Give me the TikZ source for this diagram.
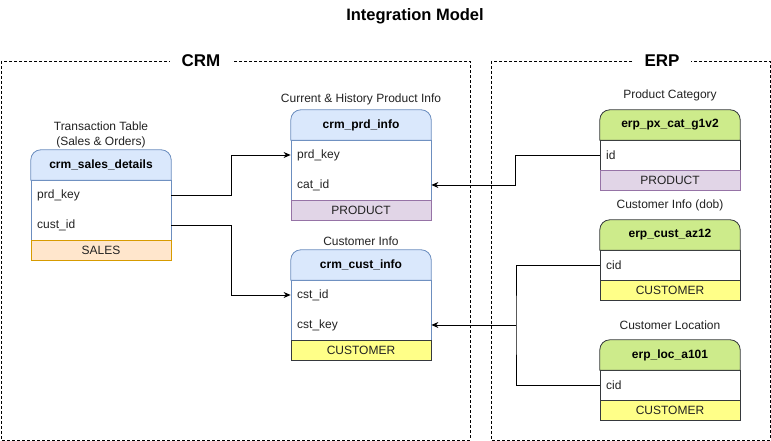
\documentclass[tikz,border=0pt]{standalone}
\usepackage{fontspec}
\setmainfont{Liberation Sans}
\usetikzlibrary{arrows.meta}
\definecolor{hdrblue}{HTML}{DAE8FC}
\definecolor{strblue}{HTML}{6C8EBF}
\definecolor{hdrgreen}{HTML}{CDEB8B}
\definecolor{strdark}{HTML}{36393D}
\definecolor{fpurple}{HTML}{E1D5E7}
\definecolor{spurple}{HTML}{9673A6}
\definecolor{forange}{HTML}{FFE6CC}
\definecolor{sorange}{HTML}{D79B00}
\definecolor{fyellow}{HTML}{FFFF88}
\definecolor{txt}{HTML}{222222}
\tikzset{
  container/.style={draw=black, dash pattern=on 3pt off 2pt, line width=0.8pt},
  contlabel/.style={fill=white, inner xsep=12pt, inner ysep=2pt, font=\fontsize{17}{19}\selectfont\bfseries},
  hdrtext/.style={inner sep=0pt, minimum width=140pt, minimum height=30pt, font=\fontsize{12}{14}\selectfont\bfseries},
  bodybox/.style={draw, fill=white, inner sep=0pt, minimum width=140pt, line width=0.8pt},
  foot/.style={draw, inner sep=0pt, minimum width=140pt, minimum height=20pt, line width=0.8pt, font=\fontsize{12}{14}\selectfont, text=txt},
  field/.style={anchor=west, inner sep=0pt, font=\fontsize{12}{14}\selectfont, text=txt},
  caption/.style={inner sep=0pt, align=center, font=\fontsize{12}{15}\selectfont, text=txt},
  conn/.style={draw=black, line width=0.8pt},
  arr/.style={conn, -{Stealth[length=7pt,width=6pt]}},
}
\newcommand{\hdrshape}[3]{%
  \draw[draw=#2, fill=#3, line width=0.8pt] (#1.south west) -- ([yshift=-10pt]#1.north west)
    arc[start angle=180, end angle=90, radius=10pt] -- ([xshift=-10pt]#1.north east)
    arc[start angle=90, end angle=0, radius=10pt] -- (#1.south east) -- cycle;}
\begin{document}
\begin{tikzpicture}[x=1pt, y=1pt]
\useasboundingbox (0,0) rectangle (771,441);
% title
\node[font=\fontsize{16.5}{18}\selectfont\bfseries] (title) at (415,425) {Integration Model};
% containers
\draw[container] (1,380) rectangle (470,1);
\node[contlabel] (crmlab) at (201,380) {CRM};
\draw[container] (491,380) rectangle (770,1);
\node[contlabel] (erplab) at (662,380) {ERP};

% ---- crm_sales_details
\node[caption] (sdcap) at (101,306.5) {Transaction Table\\(Sales \& Orders)};
\node[bodybox, draw=strblue, minimum height=60pt] (sdbody) at (101,231) {};
\node[foot, draw=sorange, fill=forange] (sdfoot) at (101,191) {SALES};
\node[hdrtext] (sdhdr) at (101,276) {};
\hdrshape{sdhdr}{strblue}{hdrblue}
\node[hdrtext] at (sdhdr) {crm\_sales\_details};
\node[field] (sdprd) at (37,246) {prd\_key};
\node[field] (sdcust) at (37,216) {cust\_id};

% ---- crm_prd_info
\node[caption] (prcap) at (361,342) {Current \& History Product Info};
\node[bodybox, draw=strblue, minimum height=60pt] (prbody) at (361,271) {};
\node[foot, draw=spurple, fill=fpurple] (prfoot) at (361,231) {PRODUCT};
\node[hdrtext] (prhdr) at (361,316) {};
\hdrshape{prhdr}{strblue}{hdrblue}
\node[hdrtext] at (prhdr) {crm\_prd\_info};
\node[field] (prkey) at (297,286) {prd\_key};
\node[field] (prcat) at (297,256) {cat\_id};

% ---- crm_cust_info
\node[caption] (cicap) at (361,200) {Customer Info};
\node[bodybox, draw=strblue, minimum height=60pt] (cibody) at (361,131) {};
\node[foot, draw=strdark, fill=fyellow] (cifoot) at (361,91) {CUSTOMER};
\node[hdrtext] (cihdr) at (361,176) {};
\hdrshape{cihdr}{strblue}{hdrblue}
\node[hdrtext] at (cihdr) {crm\_cust\_info};
\node[field] (ciid) at (297,146) {cst\_id};
\node[field] (cikey) at (297,116) {cst\_key};

% ---- erp_px_cat_g1v2
\node[caption] (pxcap) at (670,346) {Product Category};
\node[bodybox, draw=strdark, minimum height=30pt] (pxbody) at (670,286) {};
\node[foot, draw=spurple, fill=fpurple] (pxfoot) at (670,261) {PRODUCT};
\node[hdrtext] (pxhdr) at (670,316) {};
\hdrshape{pxhdr}{strdark}{hdrgreen}
\node[hdrtext] at (pxhdr) {erp\_px\_cat\_g1v2};
\node[field] (pxid) at (606,286) {id};

% ---- erp_cust_az12
\node[caption] (azcap) at (670,236) {Customer Info (dob)};
\node[bodybox, draw=strdark, minimum height=30pt] (azbody) at (670,176) {};
\node[foot, draw=strdark, fill=fyellow] (azfoot) at (670,151) {CUSTOMER};
\node[hdrtext] (azhdr) at (670,206) {};
\hdrshape{azhdr}{strdark}{hdrgreen}
\node[hdrtext] at (azhdr) {erp\_cust\_az12};
\node[field] (azcid) at (606,176) {cid};

% ---- erp_loc_a101
\node[caption] (lccap) at (670,116) {Customer Location};
\node[bodybox, draw=strdark, minimum height=30pt] (lcbody) at (670,56) {};
\node[foot, draw=strdark, fill=fyellow] (lcfoot) at (670,31) {CUSTOMER};
\node[hdrtext] (lchdr) at (670,86) {};
\hdrshape{lchdr}{strdark}{hdrgreen}
\node[hdrtext] at (lchdr) {erp\_loc\_a101};
\node[field] (lccid) at (606,56) {cid};

% ---- connectors
\draw[arr] (sdprd -| sdbody.east) -- ++(60,0) |- (prkey -| prbody.west);
\draw[arr] (sdcust -| sdbody.east) -- ++(60,0) |- (ciid -| cibody.west);
\draw[arr] (pxid -| pxbody.west) -- ++(-84,0) |- (prcat -| prbody.east);
\coordinate (junc) at (516,116);
\draw[conn] (azcid -| azbody.west) -| (junc) |- (lccid -| lcbody.west);
\draw[arr] (junc) -- (cikey -| cibody.east);
\end{tikzpicture}
\end{document}
